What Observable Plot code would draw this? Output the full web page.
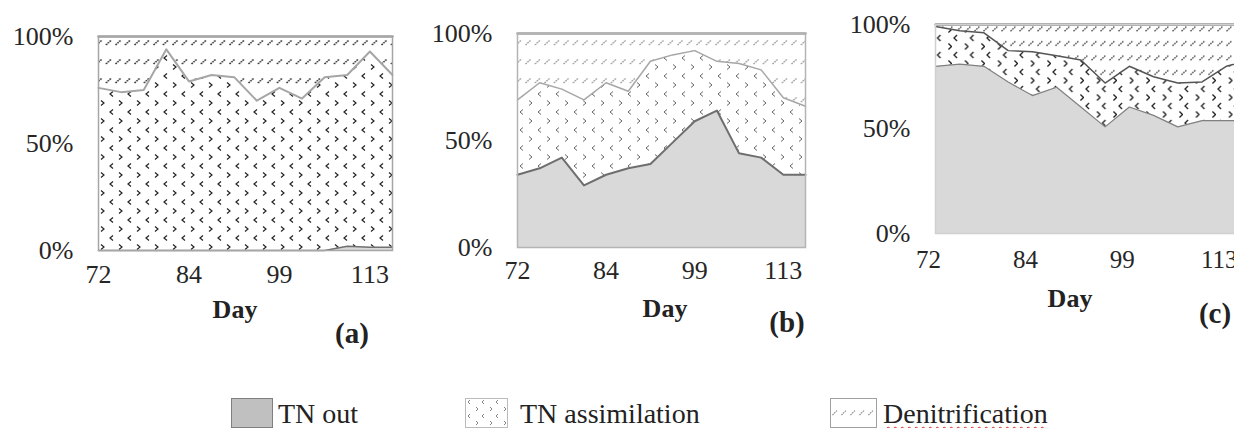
<!DOCTYPE html>
<html><head><meta charset="utf-8">
<style>
html,body{margin:0;padding:0;background:#fff;}
body{width:1234px;height:428px;overflow:hidden;position:relative;font-family:'Liberation Serif','Times New Roman',serif;color:#222;}
.panel{position:absolute;top:0;height:300px;}
.panel svg{max-width:none !important;}
.lbl{position:absolute;white-space:nowrap;line-height:1;font-family:'Liberation Serif','Times New Roman',serif;}
.bold{font-weight:bold;font-size:26px;transform:translateX(-50%);}
.tag{font-weight:bold;font-size:29px;transform:translateX(-50%);}
.leg{font-size:28px;top:399.5px;font-weight:500;font-style:normal;}
.box{position:absolute;box-sizing:border-box;}
.spell{text-decoration:underline wavy #d22;text-decoration-thickness:1px;text-underline-offset:3px;}
</style>
<script src="https://cdn.jsdelivr.net/npm/d3@7"></script>
<script src="https://cdn.jsdelivr.net/npm/@observablehq/plot@0.6"></script>
</head><body>
<svg width="0" height="0" style="position:absolute">
<defs>
  <pattern id="assimA" patternUnits="userSpaceOnUse" width="18" height="18">
    <rect width="18" height="18" fill="#fff"/>
    <path d="M5,1.5 L2,4 L5,6.5 M11,10.5 L14,13 L11,15.5" fill="none" stroke="#222" stroke-width="1.2"/>
  </pattern>
  <pattern id="assimB" patternUnits="userSpaceOnUse" width="18" height="18">
    <rect width="18" height="18" fill="#fff"/>
    <path d="M5,1.5 L2,4 L5,6.5 M11,10.5 L14,13 L11,15.5" fill="none" stroke="#666" stroke-width="1"/>
  </pattern>
  <pattern id="assimC" patternUnits="userSpaceOnUse" width="16.5" height="17">
    <rect width="16.5" height="17" fill="#fff"/>
    <path d="M5,1 L2,4 L5,7 M13,9.5 L16,12.5 L13,15.5" fill="none" stroke="#222" stroke-width="1.3"/>
  </pattern>
  <pattern id="hatchA" patternUnits="userSpaceOnUse" width="9.5" height="19">
    <rect width="9.5" height="19" fill="#fff"/>
    <path d="M1.5,7 L7,2" stroke="#222" stroke-width="1.5" stroke-dasharray="1.6 0.9"/>
  </pattern>
  <pattern id="hatchB" patternUnits="userSpaceOnUse" width="9.5" height="19">
    <rect width="9.5" height="19" fill="#fff"/>
    <path d="M1.5,7 L7,2" stroke="#8c8c8c" stroke-width="1.2" stroke-dasharray="1.6 0.9"/>
  </pattern>
  <pattern id="hatchC" patternUnits="userSpaceOnUse" width="9" height="14.5" patternTransform="translate(0,7)">
    <rect width="9" height="14.5" fill="#fff"/>
    <path d="M1.5,9.7 L7,4.7" stroke="#333" stroke-width="1.3" stroke-dasharray="1.6 0.9"/>
  </pattern>
  <pattern id="assimL" patternUnits="userSpaceOnUse" width="14" height="14">
    <rect width="14" height="14" fill="#fff"/>
    <path d="M4,1 L2,3 L4,5 M10,8 L12,10 L10,12" fill="none" stroke="#777" stroke-width="0.9"/>
  </pattern>
  <pattern id="hatchL" patternUnits="userSpaceOnUse" width="9" height="60">
    <rect width="9" height="60" fill="#fff"/>
    <path d="M1.5,16 L6.5,11" stroke="#888" stroke-width="1.1" stroke-dasharray="1.5 0.9"/>
  </pattern>
</defs></svg>

<div id="pa" class="panel" style="left:0px;width:410px"></div>
<div id="pb" class="panel" style="left:410px;width:410px"></div>
<div id="pc" class="panel" style="left:820px;width:440px"></div>

<div class="lbl bold" style="left:235px;top:297px">Day</div>
<div class="lbl bold" style="left:665px;top:296px">Day</div>
<div class="lbl bold" style="left:1070px;top:286px">Day</div>
<div class="lbl tag" style="left:352px;top:319px">(a)</div>
<div class="lbl tag" style="left:787px;top:308px">(b)</div>
<div class="lbl tag" style="left:1215px;top:299px">(c)</div>

<div class="box" style="left:231px;top:398px;width:42px;height:30px;background:#c0c0c0;border:1.5px solid #7f7f7f"></div>
<div class="lbl leg" style="left:278px">TN out</div>
<div class="box" id="lb2" style="left:465px;top:398px;width:43px;height:30px;border:1px solid #bbb"></div>
<div class="lbl leg" style="left:520px">TN assimilation</div>
<div class="box" id="lb3" style="left:830px;top:398px;width:47px;height:30px;border:1.5px solid #a0a0a0"></div>
<div class="lbl leg" style="left:883px"><span class="spell">Denitrification</span></div>

<script>
// categories
const series = ["TN out", "TN assimilation", "Denitrification"];
const samples = [0, 1, 2, 3, 4, 5, 6, 7, 8, 9, 10, 11, 12, 13];
const tickIndex = [0, 4, 8, 12];
const tickLabels = ["72", "84", "99", "113"];
const yTicks = [0, 50, 100];

// panel (a) shares, %
const tnOutA = [0, 0, 0, 0, 0, 0, 0, 0, 0, 0, 0, 2, 1.5, 1.5];
const assimA = [76, 74, 75, 94, 79, 82, 81, 70, 76, 71, 81, 80, 91.5, 80.5];
const denitA = [24, 26, 25, 6, 21, 18, 19, 30, 24, 29, 19, 18, 7, 18];

// panel (b) shares, %
const tnOutB = [34, 37, 42, 29, 34, 37, 39, 49, 59, 64, 44, 42, 34, 34];
const assimB = [35, 40, 32, 40, 43, 36, 48, 41, 33, 23, 42, 41, 36, 32];
const denitB = [31, 23, 26, 31, 23, 27, 13, 10, 8, 13, 14, 17, 30, 34];

// panel (c) shares, %
const tnOutC = [80, 81, 80, 72.5, 66, 70, 60.5, 51, 60.5, 56.5, 51, 54, 54, 54];
const assimC = [19, 16, 16, 15, 21, 15, 22.5, 21, 19.5, 18.5, 21, 18.5, 26, 29];
const denitC = [1, 3, 4, 12.5, 13, 15, 17, 28, 20, 25, 28, 27.5, 20, 17];

const FONT = "'Liberation Serif', 'Times New Roman', serif";

function panel(el, values, cfg) {
  const tidy = [];
  values.forEach((vals, s) => vals.forEach((v, k) => tidy.push({i: samples[k], series: series[s], v})));
  const plot = Plot.plot({
    width: cfg.width, height: 300,
    marginLeft: cfg.ml, marginRight: cfg.mr, marginTop: cfg.mt, marginBottom: cfg.mb,
    style: {fontFamily: FONT, fontSize: "26px", color: "#262626", background: "transparent", overflow: "visible", maxWidth: "none"},
    color: {type: "identity"},
    x: {domain: [0, 13], axis: null},
    y: {domain: [0, 100], axis: null},
    marks: [
      Plot.areaY(tidy, Plot.stackY({x: "i", y: "v", z: "series", fill: d => cfg.fills[d.series]})),
      Plot.lineY(tidy, Plot.stackY2({x: "i", y: "v", z: "series", stroke: d => cfg.strokes[d.series], strokeWidth: d => cfg.widths[d.series]})),
      Plot.frame({stroke: cfg.frame, strokeWidth: 1.5}),
      Plot.text(tickIndex, {x: d => d, text: d => tickLabels[tickIndex.indexOf(d)], frameAnchor: "bottom", dy: cfg.xdy, dx: cfg.xdx, fontSize: cfg.xfs, fontFamily: FONT, fontWeight: 500, fill: "#262626"}),
      Plot.text(yTicks, {y: d => d, text: d => d + "%", frameAnchor: "left", textAnchor: "end", dx: -25, fontSize: 26, fontFamily: FONT, fontWeight: 500, fill: "#262626"})
    ]
  });
  plot.style.maxWidth = "none";
  document.getElementById(el).appendChild(plot);
}

panel("pa", [tnOutA, assimA, denitA], {
  width: 410, ml: 98, mr: 18, mt: 36, mb: 50, xdy: 32, xdx: 0, xfs: 26,
  fills: {"TN out": "#d9d9d9", "TN assimilation": "url(#assimA)", "Denitrification": "url(#hatchA)"},
  strokes: {"TN out": "#707070", "TN assimilation": "#a6a6a6", "Denitrification": "#a0a0a0"},
  widths: {"TN out": 1.5, "TN assimilation": 2, "Denitrification": 2.5},
  frame: "#a6a6a6"
});
panel("pb", [tnOutB, assimB, denitB], {
  width: 410, ml: 107, mr: 15, mt: 33, mb: 53, xdy: 31, xdx: 0, xfs: 26,
  fills: {"TN out": "#d9d9d9", "TN assimilation": "url(#assimB)", "Denitrification": "url(#hatchB)"},
  strokes: {"TN out": "#6e6e6e", "TN assimilation": "#a6a6a6", "Denitrification": "#a0a0a0"},
  widths: {"TN out": 2, "TN assimilation": 1.5, "Denitrification": 2.5},
  frame: "#b4b4b4"
});
panel("pc", [tnOutC, assimC, denitC], {
  width: 440, ml: 115, mr: 10, mt: 24, mb: 67, xdy: 34, xdx: -7, xfs: 25,
  fills: {"TN out": "#d9d9d9", "TN assimilation": "url(#assimC)", "Denitrification": "url(#hatchC)"},
  strokes: {"TN out": "#808080", "TN assimilation": "#555555", "Denitrification": "#555555"},
  widths: {"TN out": 1.2, "TN assimilation": 1.5, "Denitrification": 2},
  frame: "#d0d0d0"
});

// legend swatches filled with the same patterns
function swatch(id, fill) {
  const el = document.getElementById(id);
  const w = el.clientWidth, h = el.clientHeight;
  el.innerHTML = `<svg width="${w}" height="${h}" style="display:block"><rect width="${w}" height="${h}" fill="${fill}"/></svg>`;
}
swatch("lb2", "url(#assimL)");
swatch("lb3", "url(#hatchL)");
</script>
</body></html>
